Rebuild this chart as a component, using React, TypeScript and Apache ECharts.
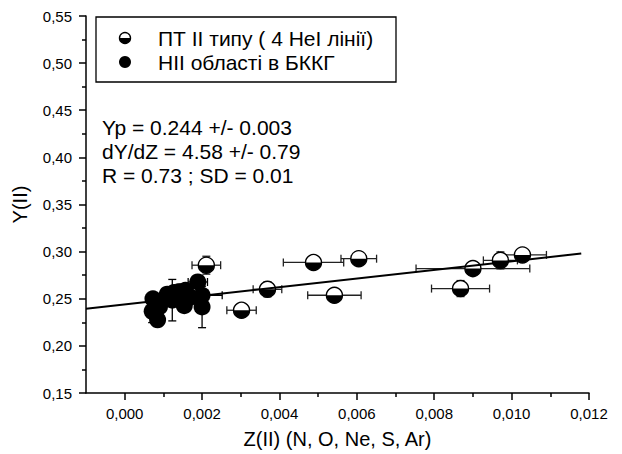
import React, { useEffect, useRef } from "react";
import * as echarts from "echarts";

// ПТ II типу (half-filled markers)
const ptX = [0.00211, 0.00302, 0.00369, 0.00488, 0.00542, 0.00605, 0.00868, 0.009, 0.00971, 0.01028];
const ptY = [0.2856, 0.2378, 0.26, 0.2885, 0.2537, 0.2925, 0.2608, 0.282, 0.2907, 0.2965];
const ptXErr = [0.00037, 0.00038, 0.00037, 0.00078, 0.00069, 0.00046, 0.00075, 0.00147, 0.00044, 0.00062];
const ptYErr = [0.0095, 0.003, 0.008, 0.002, 0.006, 0.003, 0.0085, 0.003, 0.009, 0.0065];

// НІІ області в БККГ (filled markers)
const hiiX = [0.00073, 0.00071, 0.00085, 0.0009, 0.0011, 0.00123, 0.00128, 0.00142, 0.00157, 0.00154, 0.00152, 0.0017, 0.00189, 0.002, 0.002];
const hiiY = [0.25, 0.2367, 0.2277, 0.2415, 0.2548, 0.2485, 0.2567, 0.2574, 0.259, 0.2426, 0.2515, 0.2516, 0.2678, 0.2537, 0.2413];
const hiiXErr = [0.0001, 0.0001, 0.0001, 0.0001, 0.0001, 0.0001, 0.0001, 0.0001, 0.0001, 0.0001, 0.0001, 0.0001, 0.00025, 0.00052, 0.0001];
const hiiYErr = [0.004, 0.012, 0.007, 0.004, 0.004, 0.022, 0.004, 0.008, 0.004, 0.004, 0.004, 0.004, 0.004, 0.004, 0.022];

// regression line endpoints
const fitX = [-0.001, 0.0118];
const fitY = [0.2394, 0.298];

const xMajor = [0, 0.002, 0.004, 0.006, 0.008, 0.01, 0.012];
const xMinor = [0.001, 0.003, 0.005, 0.007, 0.009, 0.011];

const legendLabels = ["ПТ II типу ( 4 HeI лінії)", "НІІ області в БККГ"];
const annotations = ["Yp = 0.244 +/- 0.003", "dY/dZ = 4.58 +/- 0.79", "R = 0.73 ; SD = 0.01"];

const FONT = 'Arial, "Liberation Sans", sans-serif';

function errRender(color: string) {
  return (params: any, api: any) => {
    const x = api.value(0), y = api.value(1), ex = api.value(2), ey = api.value(3);
    const cap = 4;
    const st = { stroke: color, lineWidth: 1.3 };
    const children: any[] = [];
    if (ex > 0) {
      const l = api.coord([x - ex, y]);
      const r = api.coord([x + ex, y]);
      children.push({ type: "line", shape: { x1: l[0], y1: l[1], x2: r[0], y2: r[1] }, style: st });
      children.push({ type: "line", shape: { x1: l[0], y1: l[1] - cap, x2: l[0], y2: l[1] + cap }, style: st });
      children.push({ type: "line", shape: { x1: r[0], y1: r[1] - cap, x2: r[0], y2: r[1] + cap }, style: st });
    }
    if (ey > 0) {
      const t = api.coord([x, y + ey]);
      const b = api.coord([x, y - ey]);
      children.push({ type: "line", shape: { x1: t[0], y1: t[1], x2: b[0], y2: b[1] }, style: st });
      children.push({ type: "line", shape: { x1: t[0] - cap, y1: t[1], x2: t[0] + cap, y2: t[1] }, style: st });
      children.push({ type: "line", shape: { x1: b[0] - cap, y1: b[1], x2: b[0] + cap, y2: b[1] }, style: st });
    }
    return { type: "group", children };
  };
}

function halfMarker(cx: number, cy: number, r: number, z?: number) {
  const zz = z === undefined ? {} : { z };
  return [
    { type: "circle", ...zz, shape: { cx, cy, r }, style: { fill: "#fff", stroke: "#000", lineWidth: 1.4 } },
    { type: "sector", ...zz, shape: { cx, cy, r, r0: 0, startAngle: 0, endAngle: Math.PI, clockwise: true }, style: { fill: "#000" } },
  ];
}

export default function App() {
  const ref = useRef<HTMLDivElement>(null);
  useEffect(() => {
    if (!ref.current) return;
    const chart = echarts.init(ref.current, null, { renderer: "svg" });
    const ptData = ptX.map((x, i) => [x, ptY[i], ptXErr[i], ptYErr[i]]);
    const hiiData = hiiX.map((x, i) => [x, hiiY[i], hiiXErr[i], hiiYErr[i]]);
    const fitData = fitX.map((x, i) => [x, fitY[i]]);
    const axisColor = "#000";
    chart.setOption({
      animation: false,
      backgroundColor: "#fff",
      textStyle: { fontFamily: FONT },
      grid: { left: 86, top: 16, right: 33, bottom: 61 },
      xAxis: [
        {
          type: "value",
          min: -0.001,
          max: 0.012,
          splitLine: { show: false },
          axisLine: { onZero: false, lineStyle: { color: axisColor, width: 1.5 } },
          axisTick: { customValues: xMajor, length: 7, lineStyle: { color: axisColor, width: 1.5 } },
          axisLabel: {
            customValues: xMajor,
            formatter: (v: number) => v.toFixed(3).replace(".", ","),
            fontSize: 15,
            color: "#000",
            margin: 13,
            fontFamily: FONT,
          },
          name: "Z(II) (N, O, Ne, S, Ar)",
          nameLocation: "middle",
          nameGap: 36,
          nameTextStyle: { fontSize: 20, color: "#000", fontFamily: FONT },
        },
        {
          type: "value",
          min: -0.001,
          max: 0.012,
          position: "bottom",
          splitLine: { show: false },
          axisLine: { show: false, onZero: false },
          axisLabel: { show: false },
          axisTick: { customValues: xMinor, length: 4, lineStyle: { color: axisColor, width: 1.5 } },
        },
      ],
      yAxis: {
        type: "value",
        min: 0.15,
        max: 0.55,
        interval: 0.05,
        splitLine: { show: false },
        axisLine: { onZero: false, lineStyle: { color: axisColor, width: 1.5 } },
        axisTick: { length: 7, lineStyle: { color: axisColor, width: 1.5 } },
        minorTick: { show: true, splitNumber: 2, length: 4, lineStyle: { color: axisColor, width: 1.5 } },
        minorSplitLine: { show: false },
        axisLabel: {
          formatter: (v: number) => v.toFixed(2).replace(".", ","),
          fontSize: 15,
          color: "#000",
          margin: 14,
          fontFamily: FONT,
        },
        name: "Y(II)",
        nameLocation: "middle",
        nameRotate: 90,
        nameGap: 56,
        nameTextStyle: { fontSize: 20, color: "#000", fontFamily: FONT },
      },
      series: [
        {
          type: "custom",
          name: "hiiErr",
          data: hiiData,
          encode: { x: 0, y: 1 },
          renderItem: errRender("#000"),
          z: 2,
        },
        {
          type: "scatter",
          name: legendLabels[1],
          data: hiiData.map((d) => [d[0], d[1]]),
          symbol: "circle",
          symbolSize: 17,
          itemStyle: { color: "#000", opacity: 1 },
          z: 3,
        },
        {
          type: "custom",
          name: "ptErr",
          data: ptData,
          encode: { x: 0, y: 1 },
          renderItem: errRender("#222"),
          z: 4,
        },
        {
          type: "custom",
          name: legendLabels[0],
          data: ptData,
          encode: { x: 0, y: 1 },
          renderItem: (params: any, api: any) => {
            const c = api.coord([api.value(0), api.value(1)]);
            return { type: "group", children: halfMarker(c[0], c[1], 8) };
          },
          z: 5,
        },
        {
          type: "line",
          name: "fit",
          data: fitData,
          showSymbol: false,
          symbol: "none",
          lineStyle: { color: "#000", width: 2 },
          z: 6,
        },
      ],
      graphic: [
        {
          type: "rect",
          shape: { x: 96, y: 17, width: 300, height: 65 },
          style: { fill: "#fff", stroke: "#000", lineWidth: 1.3 },
          z: 10,
        },
        ...halfMarker(125, 38, 5.5, 11),
        { type: "circle", z: 11, shape: { cx: 125, cy: 62, r: 6 }, style: { fill: "#000" } },
        {
          type: "text",
          z: 11,
          x: 158,
          y: 38,
          style: { text: legendLabels[0], fontSize: 21, fontFamily: FONT, fill: "#000", verticalAlign: "middle" },
        },
        {
          type: "text",
          z: 11,
          x: 158,
          y: 62,
          style: { text: legendLabels[1], fontSize: 21, fontFamily: FONT, fill: "#000", verticalAlign: "middle" },
        },
        ...annotations.map((t, i) => ({
          type: "text",
          z: 11,
          x: 102,
          y: 127 + i * 24,
          style: { text: t, fontSize: 21, fontFamily: FONT, fill: "#000", verticalAlign: "middle" },
        })),
      ],
    });
    return () => chart.dispose();
  }, []);
  return (
    <div
      ref={ref}
      style={{ position: "fixed", left: 0, top: 0, width: 622, height: 454, background: "#fff" }}
    />
  );
}
